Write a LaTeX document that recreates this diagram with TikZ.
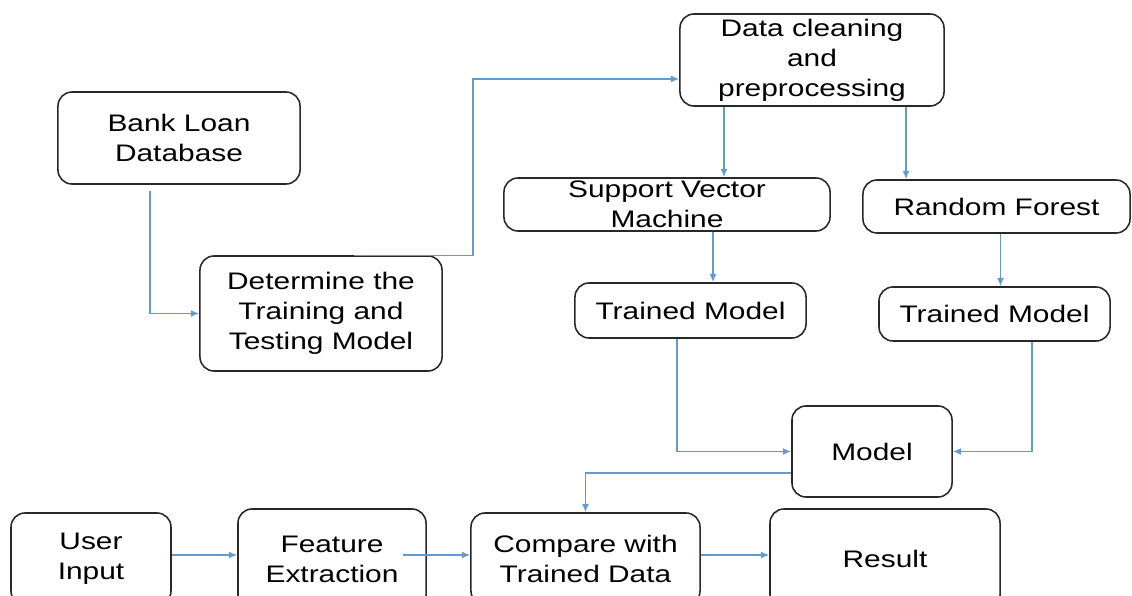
\documentclass[tikz,border=0pt]{standalone}
\usepackage{fontspec}
\setmainfont[FakeStretch=1.25]{Liberation Sans}
\usepackage{xcolor}
\usepackage{tikz}
\usetikzlibrary{shapes,arrows.meta,positioning,calc}
\definecolor{flowblue}{RGB}{100,155,205}
\definecolor{boxgray}{RGB}{40,40,40}

\begin{document}
\begin{tikzpicture}[x=0.025cm,y=-0.025cm,
    box/.style={draw=boxgray, line width=1.1pt, rounded corners=10pt, fill=white,
        inner sep=0pt, align=center, font=\fontsize{17}{21.3}\selectfont},
    flow/.style={draw=flowblue, line width=0.9pt, -{Latex[length=6pt,width=5pt]}}]
            \useasboundingbox (0,0) rectangle (1132,596);
            \clip (0,0) rectangle (1132,596);
            % training side
            \node[box, minimum width=6.05cm, minimum height=2.3cm] (db) at (179,138) {Bank Loan\\Database};
            \node[box, minimum width=6.05cm, minimum height=2.875cm] (split) at (321,313.5) {Determine the\\Training and\\Testing Model};
            \node[box, minimum width=6.6cm, minimum height=2.3cm] (clean) at (812,60) {Data cleaning\\and\\preprocessing};
            \node[box, minimum width=8.15cm, minimum height=1.325cm] (svm) at (667,204.5) {Support Vector\\Machine};
            \node[box, minimum width=6.675cm, minimum height=1.325cm] (rf) at (996.5,206.5) {Random Forest};
            \node[box, minimum width=5.775cm, minimum height=1.375cm] (tmsvm) at (690.5,310.5) {Trained Model};
            \node[box, minimum width=5.775cm, minimum height=1.35cm] (tmrf) at (994.5,314) {Trained Model};
            \node[box, minimum width=4cm, minimum height=2.275cm] (model) at (872,451.5) {Model};
            % testing side
            \node[box, minimum width=4cm, minimum height=2.3cm] (user) at (91,559) {User\\Input};
            \node[box, minimum width=4.7cm, minimum height=2.5cm] (feat) at (332,559) {Feature\\Extraction};
            \node[box, minimum width=5.725cm, minimum height=2.3cm] (comp) at (585.5,559) {Compare with\\Trained Data};
            \node[box, minimum width=5.75cm, minimum height=2.5cm] (res) at (885,559) {Result};
            % connectors
            \draw[flow] ([xshift=-0.725cm,yshift=-0.15cm]db.south) |- (split.west);
            \draw[flow] ([xshift=0.825cm]split.north) -- ++(2.975cm,0) |- ([yshift=-0.475cm]clean.west);
            \draw[flow] ([xshift=-2.2cm]clean.south) -- ([xshift=-2.2cm]clean.south |- svm.north);
            \draw[flow] ([xshift=2.35cm]clean.south) -- ([xshift=2.35cm]clean.south |- rf.north);
            \draw[flow] ([xshift=1.15cm]svm.south) -- ([xshift=1.15cm]svm.south |- tmsvm.north);
            \draw[flow] ([xshift=0.1cm]rf.south) -- ([xshift=0.1cm]rf.south |- tmrf.north);
            \draw[flow] ([xshift=-0.34cm]tmsvm.south) |- (model.west);
            \draw[flow] ([xshift=0.94cm]tmrf.south) |- (model.east);
            \draw[flow] ([yshift=-0.54cm]model.west) -| (comp.north);
            \draw[flow] ([yshift=0.1cm]user.east) -- ([yshift=0.1cm]feat.west);
            \draw[flow] ([xshift=-0.6cm,yshift=0.1cm]feat.east) -- ([yshift=0.1cm]comp.west);
            \draw[flow] ([yshift=0.1cm]comp.east) -- ([yshift=0.1cm]res.west);
        \end{tikzpicture}
\end{document}
